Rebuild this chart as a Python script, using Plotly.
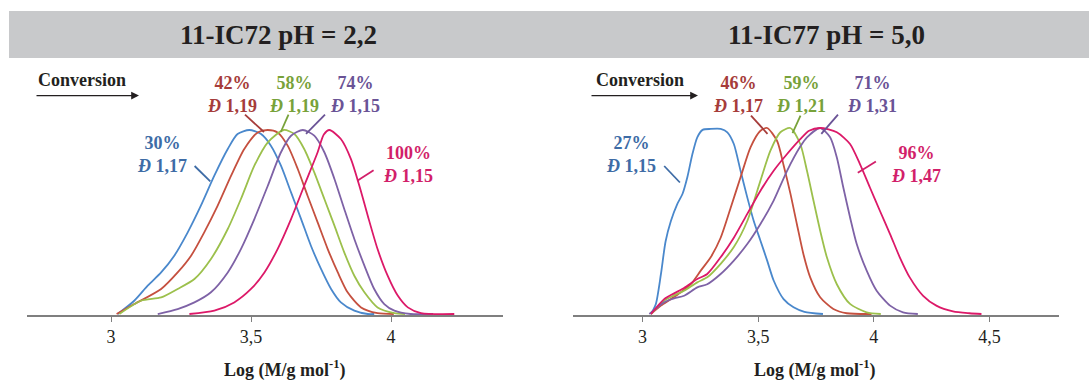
import plotly.graph_objects as go

W, H = 1089, 380

# ---- data (log M, normalised signal) ----
# 11-IC72 pH = 2,2
L30_x = [3.024, 3.083, 3.131, 3.179, 3.226, 3.274, 3.321, 3.369, 3.417, 3.452, 3.494, 3.536, 3.571, 3.607, 3.643, 3.679, 3.714, 3.75, 3.786, 3.821, 3.869, 3.917, 3.94]
L30_y = [0, 0.072, 0.154, 0.226, 0.317, 0.444, 0.589, 0.752, 0.897, 0.978, 1.0, 0.978, 0.915, 0.806, 0.661, 0.516, 0.371, 0.245, 0.136, 0.063, 0.018, 0, 0]
L42_x = [3.02, 3.083, 3.179, 3.238, 3.286, 3.333, 3.381, 3.429, 3.476, 3.524, 3.56, 3.595, 3.631, 3.667, 3.702, 3.738, 3.774, 3.81, 3.845, 3.893, 3.952, 4.01]
L42_y = [0, 0.054, 0.136, 0.226, 0.317, 0.444, 0.589, 0.752, 0.897, 0.987, 1.0, 0.987, 0.915, 0.788, 0.643, 0.498, 0.353, 0.226, 0.118, 0.036, 0.005, 0]
L58_x = [3.03, 3.107, 3.179, 3.238, 3.298, 3.357, 3.417, 3.464, 3.512, 3.56, 3.617, 3.655, 3.69, 3.726, 3.762, 3.798, 3.833, 3.869, 3.905, 3.952, 4.012, 4.05]
L58_y = [0, 0.072, 0.09, 0.136, 0.19, 0.299, 0.462, 0.625, 0.806, 0.933, 1.0, 0.978, 0.897, 0.77, 0.625, 0.48, 0.335, 0.208, 0.118, 0.036, 0.005, 0]
L74_x = [3.167, 3.238, 3.298, 3.357, 3.417, 3.464, 3.512, 3.56, 3.607, 3.643, 3.685, 3.726, 3.762, 3.798, 3.833, 3.869, 3.905, 3.94, 3.976, 4.012, 4.07, 4.15]
L74_y = [0, 0.027, 0.063, 0.118, 0.226, 0.353, 0.516, 0.697, 0.879, 0.969, 1.0, 0.969, 0.879, 0.734, 0.571, 0.408, 0.263, 0.136, 0.054, 0.018, 0, 0]
L100_x = [3.28, 3.369, 3.44, 3.5, 3.548, 3.595, 3.643, 3.69, 3.738, 3.76, 3.78, 3.821, 3.857, 3.887, 3.917, 3.952, 3.988, 4.024, 4.06, 4.107, 4.226]
L100_y = [0, 0.018, 0.063, 0.136, 0.226, 0.353, 0.516, 0.697, 0.879, 0.975, 1.0, 0.951, 0.842, 0.697, 0.534, 0.353, 0.208, 0.1, 0.036, 0.005, 0]

# 11-IC77 pH = 5,0
R27_x = [3.037, 3.058, 3.08, 3.10, 3.123, 3.15, 3.173, 3.194, 3.216, 3.237, 3.26, 3.295, 3.338, 3.367, 3.395, 3.424, 3.453, 3.481, 3.51, 3.539, 3.567, 3.61, 3.653, 3.70, 3.78]
R27_y = [0, 0.054, 0.215, 0.39, 0.50, 0.59, 0.645, 0.735, 0.86, 0.95, 0.99, 0.995, 0.995, 0.977, 0.914, 0.77, 0.627, 0.50, 0.394, 0.287, 0.18, 0.08, 0.036, 0.012, 0]
R46_x = [3.037, 3.08, 3.123, 3.166, 3.209, 3.252, 3.295, 3.338, 3.381, 3.424, 3.467, 3.51, 3.539, 3.582, 3.61, 3.639, 3.668, 3.696, 3.725, 3.768, 3.825, 3.883, 3.99]
R46_y = [0, 0.045, 0.08, 0.117, 0.16, 0.233, 0.305, 0.41, 0.57, 0.735, 0.896, 0.985, 1.0, 0.93, 0.80, 0.65, 0.48, 0.32, 0.197, 0.09, 0.027, 0.004, 0]
R59_x = [3.037, 3.094, 3.137, 3.18, 3.237, 3.28, 3.338, 3.395, 3.453, 3.51, 3.553, 3.596, 3.639, 3.682, 3.711, 3.739, 3.768, 3.797, 3.84, 3.897, 3.969, 4.03]
R59_y = [0, 0.072, 0.10, 0.125, 0.17, 0.197, 0.27, 0.36, 0.50, 0.717, 0.878, 0.977, 1.0, 0.914, 0.77, 0.61, 0.448, 0.305, 0.16, 0.054, 0.009, 0]
R71_x = [3.03, 3.094, 3.137, 3.18, 3.237, 3.28, 3.338, 3.395, 3.453, 3.51, 3.567, 3.625, 3.682, 3.711, 3.768, 3.811, 3.84, 3.868, 3.897, 3.926, 3.969, 4.012, 4.07, 4.126, 4.19]
R71_y = [0, 0.063, 0.084, 0.098, 0.143, 0.16, 0.215, 0.287, 0.376, 0.484, 0.61, 0.77, 0.90, 0.95, 1.0, 0.95, 0.842, 0.68, 0.52, 0.376, 0.233, 0.125, 0.045, 0.009, 0]
R96_x = [3.037, 3.094, 3.137, 3.18, 3.237, 3.28, 3.338, 3.395, 3.453, 3.51, 3.567, 3.625, 3.682, 3.72, 3.768, 3.84, 3.897, 3.94, 3.983, 4.026, 4.07, 4.112, 4.155, 4.213, 4.27, 4.342, 4.413, 4.465]
R96_y = [0, 0.08, 0.111, 0.14, 0.188, 0.215, 0.305, 0.41, 0.538, 0.663, 0.77, 0.86, 0.94, 0.985, 1.0, 0.977, 0.914, 0.806, 0.68, 0.555, 0.43, 0.305, 0.197, 0.098, 0.045, 0.014, 0.004, 0]

tick_vals_left = [3, 3.5, 4]
tick_text_left = ["3", "3,5", "4"]
tick_vals_right = [3, 3.5, 4, 4.5]
tick_text_right = ["3", "3,5", "4", "4,5"]

titles = ["11-IC72 pH = 2,2", "11-IC77 pH = 5,0"]
conv_left = ["30%", "42%", "58%", "74%", "100%"]
disp_left = ["1,17", "1,19", "1,19", "1,15", "1,15"]
conv_right = ["27%", "46%", "59%", "71%", "96%"]
disp_right = ["1,15", "1,17", "1,21", "1,31", "1,47"]

line_colors = ["#4a88cc", "#c5503f", "#9cc04c", "#7e62a6", "#dc1968"]
label_colors = ["#3e6ca6", "#a63c3a", "#78a23a", "#6a5396", "#d21f6a"]

SERIF = "Liberation Serif, Times New Roman, serif"


def pp(x, y):
    # pixel -> paper
    return x / W, 1 - y / H


fig = go.Figure()

left = [(L30_x, L30_y), (L42_x, L42_y), (L58_x, L58_y), (L74_x, L74_y), (L100_x, L100_y)]
right = [(R27_x, R27_y), (R46_x, R46_y), (R59_x, R59_y), (R71_x, R71_y), (R96_x, R96_y)]

for i, (xs, ys) in enumerate(left):
    fig.add_trace(go.Scatter(x=xs, y=ys, mode="lines", xaxis="x", yaxis="y",
                             line=dict(color=line_colors[i], width=1.8, shape="spline", smoothing=0.7),
                             name=conv_left[i], showlegend=False))
for i, (xs, ys) in enumerate(right):
    fig.add_trace(go.Scatter(x=xs, y=ys, mode="lines", xaxis="x2", yaxis="y2",
                             line=dict(color=line_colors[i], width=1.8, shape="spline", smoothing=0.7),
                             name=conv_right[i], showlegend=False))

axis_common = dict(showgrid=False, zeroline=False, showline=True, linecolor="#7f7f7f", linewidth=1.5,
                   ticks="outside", ticklen=5, tickcolor="#7f7f7f", tickwidth=1,
                   tickfont=dict(family=SERIF, size=18, color="#231f20"))

fig.update_layout(
    width=W, height=H, margin=dict(l=0, r=0, t=0, b=0),
    paper_bgcolor="white", plot_bgcolor="white",
    xaxis=dict(domain=[27 / W, 503 / W], range=[2.7, 4.4], anchor="y",
               tickvals=tick_vals_left, ticktext=tick_text_left, **axis_common),
    yaxis=dict(domain=[65 / H, (H - 93.2) / H], range=[-0.0054, 1.2], visible=False, anchor="x"),
    xaxis2=dict(domain=[573 / W, 1059 / W], range=[2.7, 4.8], anchor="y2",
                tickvals=tick_vals_right, ticktext=tick_text_right, **axis_common),
    yaxis2=dict(domain=[65 / H, (H - 90.8) / H], range=[-0.0054, 1.2], visible=False, anchor="x2"),
)

shapes = []
annotations = []

# grey title band
x0, y0 = pp(9, 11)
x1, y1 = pp(W, 58)
shapes.append(dict(type="rect", xref="paper", yref="paper", x0=x0, y0=y1, x1=x1, y1=y0,
                   fillcolor="#c8c9cb", line=dict(width=0), layer="below"))

for t, cx in zip(titles, [278, 826]):
    x, y = pp(cx, 35)
    annotations.append(dict(text="<b>%s</b>" % t, x=x, y=y, xref="paper", yref="paper",
                            showarrow=False, xanchor="center", yanchor="middle",
                            font=dict(family=SERIF, size=27, color="#231f20")))

# axis titles
for cx in [285, 815]:
    x, y = pp(cx, 369)
    annotations.append(dict(text="<b>Log (M/g mol<sup>-1</sup>)</b>", x=x, y=y, xref="paper", yref="paper",
                            showarrow=False, xanchor="center", yanchor="middle",
                            font=dict(family=SERIF, size=18, color="#231f20")))

# "Conversion" with arrow
for tx, ax0, ax1 in [(82, 35, 139), (640, 590, 698)]:
    x, y = pp(tx, 80)
    annotations.append(dict(text="<b>Conversion</b>", x=x, y=y, xref="paper", yref="paper",
                            showarrow=False, xanchor="center", yanchor="middle",
                            font=dict(family=SERIF, size=18, color="#231f20")))
    hx, hy = pp(ax1, 95.6)
    annotations.append(dict(text="", x=hx, y=hy, xref="paper", yref="paper",
                            showarrow=True, ax=-(ax1 - ax0), ay=0, arrowhead=2, arrowsize=1.2,
                            arrowwidth=1.3, arrowcolor="#231f20"))

# conversion / dispersity labels: (centre x, centre y, leader line)
lab_left = [(161.6, 154.3, (194.6, 166, 210.3, 181.4)),
            (232, 94.7, (245, 114.7, 264, 132)),
            (293.7, 94.7, (288.5, 114.7, 280.8, 132)),
            (355, 94.7, (325, 114.7, 306, 133.8)),
            (408.4, 164.8, (373.6, 170.3, 357.3, 180.7))]
lab_right = [(631.2, 154.3, (664.2, 166, 679.9, 182.5)),
             (738, 94.7, (751, 115.7, 767.5, 133.8)),
             (800.5, 94.7, (800.5, 115.7, 792.5, 133.1)),
             (871.7, 94.7, (838, 114.7, 821.3, 133.8)),
             (916.2, 164.8, (875.9, 161.6, 857.8, 172.7))]

for convs, disps, labs in [(conv_left, disp_left, lab_left), (conv_right, disp_right, lab_right)]:
    for i in range(5):
        cx, cy, (lx0, ly0, lx1, ly1) = labs[i]
        x, y = pp(cx, cy)
        annotations.append(dict(text="<b>%s<br><i>Đ</i> %s</b>" % (convs[i], disps[i]),
                                x=x, y=y, xref="paper", yref="paper", showarrow=False,
                                xanchor="center", yanchor="middle", align="center",
                                font=dict(family=SERIF, size=18, color=label_colors[i])))
        a, b = pp(lx0, ly0)
        c, d = pp(lx1, ly1)
        shapes.append(dict(type="line", xref="paper", yref="paper", x0=a, y0=b, x1=c, y1=d,
                           line=dict(color=label_colors[i], width=1.8)))

fig.update_layout(shapes=shapes, annotations=annotations)

# page has a default 8px body margin; drop it so the 1089x380 figure fills the window
fig.write_html("out.html", config={"displayModeBar": False},
               post_script="document.body.style.margin='0px';")
